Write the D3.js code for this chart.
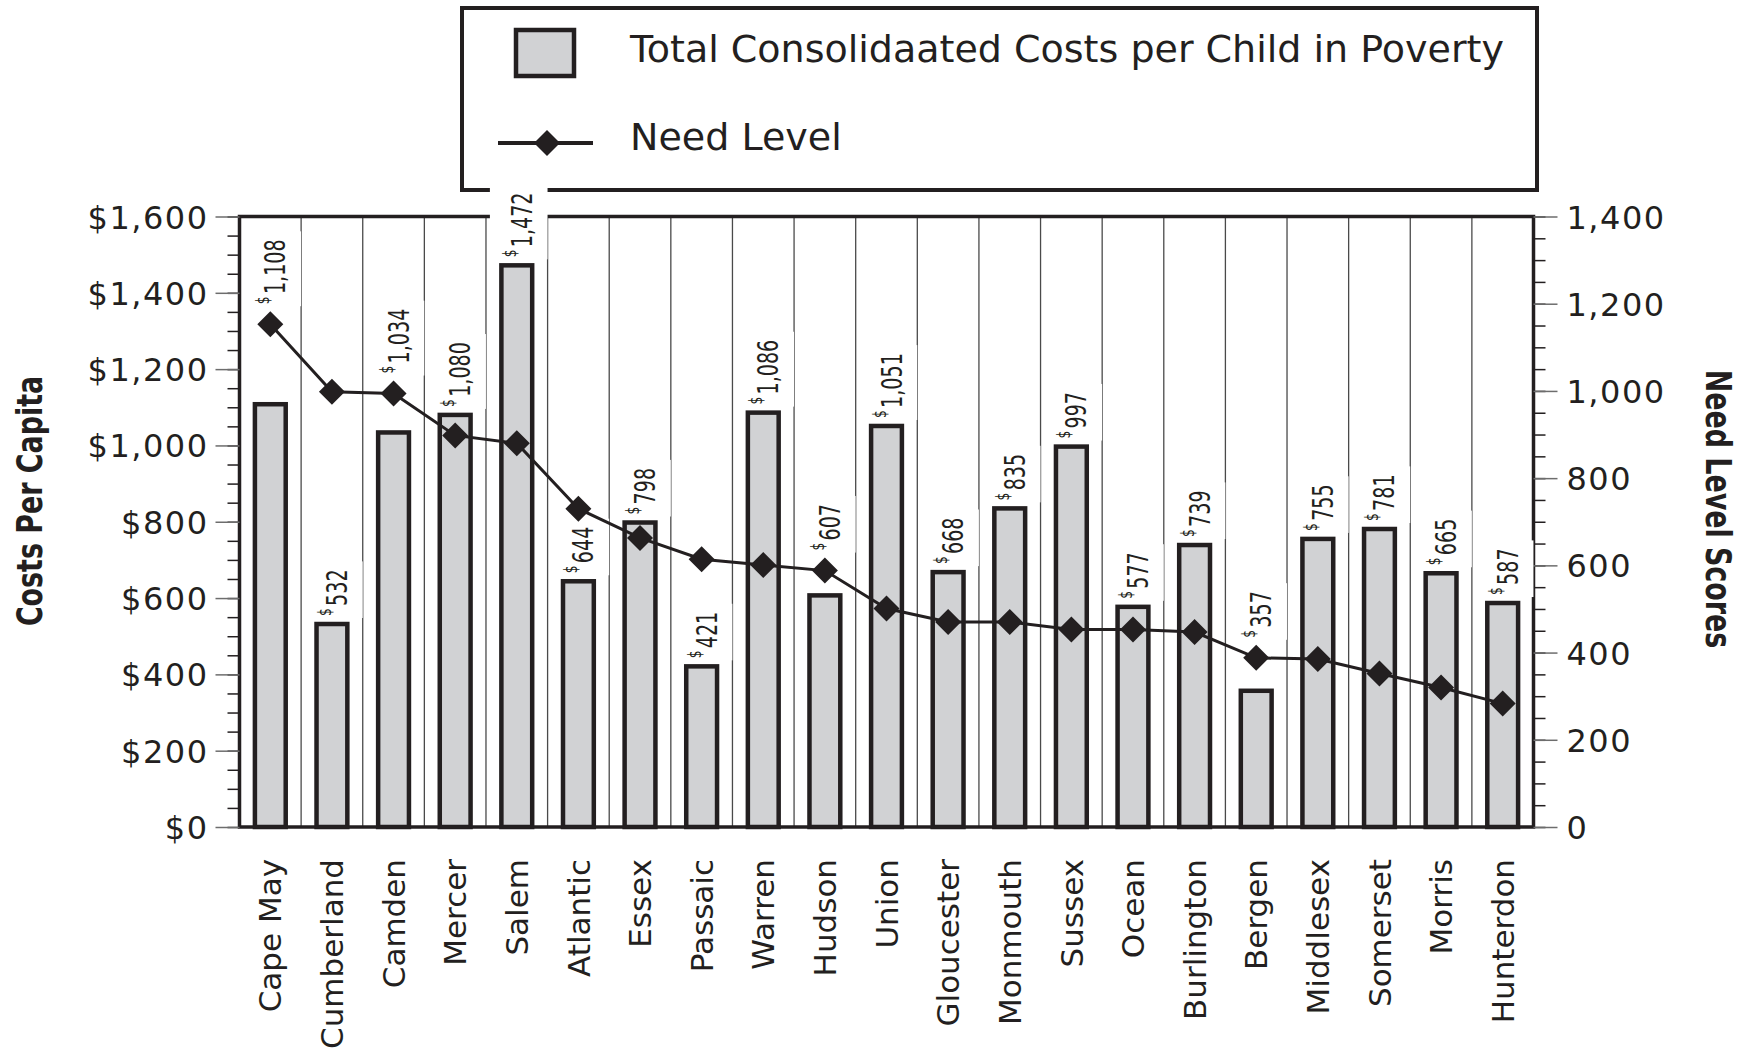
<!DOCTYPE html>
<html>
<head>
<meta charset="utf-8">
<script src="https://cdn.jsdelivr.net/npm/d3@7"></script>
<style>
  body { margin: 0; background: #fff; }
  svg { display: block; }
  .tick-label { font-family: "DejaVu Sans", sans-serif; font-size: 32px; letter-spacing: 1.5px; fill: #231f20; }
  .cat-label { font-family: "DejaVu Sans", sans-serif; font-size: 31px; fill: #231f20; }
  .legend-label { font-family: "DejaVu Sans", sans-serif; font-size: 38px; fill: #231f20; }
  .axis-title { font-family: "DejaVu Sans Condensed", "DejaVu Sans", sans-serif; font-weight: bold; font-size: 36px; fill: #231f20; }
  .value-label { font-family: "DejaVu Sans Condensed", "DejaVu Sans", sans-serif; font-size: 28px; fill: #231f20; }
</style>
</head>
<body>
<svg id="chart" width="1758" height="1050" viewBox="0 0 1758 1050"></svg>
<script>
// counties, ordered by need level
const counties = ["Cape May", "Cumberland", "Camden", "Mercer", "Salem", "Atlantic", "Essex",
  "Passaic", "Warren", "Hudson", "Union", "Gloucester", "Monmouth", "Sussex", "Ocean",
  "Burlington", "Bergen", "Middlesex", "Somerset", "Morris", "Hunterdon"]

// total consolidated costs per child in poverty ($)
const costs = [1108, 532, 1034, 1080, 1472, 644, 798, 421, 1086, 607, 1051, 668, 835, 997, 577,
  739, 357, 755, 781, 665, 587]

// need level scores
const needLevel = [1153, 998, 994, 898, 880, 730, 663, 614, 601, 588, 501, 470, 470, 453, 453,
  447, 388, 385, 352, 320, 283]

const costTicks = [0, 200, 400, 600, 800, 1000, 1200, 1400, 1600]
const needTicks = [0, 200, 400, 600, 800, 1000, 1200, 1400]

const legendLabels = ["Total Consolidaated Costs per Child in Poverty", "Need Level"]

const svg = d3.select("#chart")
const ink = "#231f20"
const squeeze = 0.83   // the original uses a condensed face, so squash along the text
const labelSqueeze = 0.76

const plotLeft = 239.5, plotRight = 1533.5, plotTop = 216.5, plotBottom = 827

let x = d3.scaleBand()
  .domain(counties)
  .range([plotLeft, plotRight])
  .paddingInner(0)

let yCost = d3.scaleLinear().domain([0, 1600]).range([plotBottom, plotTop])
let yNeed = d3.scaleLinear().domain([0, 1400]).range([plotBottom, plotTop])

// layers: the white knockouts behind labels cut frame/legend but not the need line
let gGrid = svg.append("g")
let gBars = svg.append("g")
let gFrame = svg.append("g")
let gLegend = svg.append("g")
let gKnock = svg.append("g")
let gLine = svg.append("g")
let gLabels = svg.append("g")

// thin column dividers
gGrid.selectAll("line")
  .data(counties.slice(1))
  .enter()
  .append("line")
  .attr("x1", d => x(d)).attr("x2", d => x(d))
  .attr("y1", plotTop).attr("y2", plotBottom)
  .attr("stroke", "#4a4a4a")
  .attr("stroke-width", 1.3)

// bars
const barW = x.bandwidth() * 0.5
gBars.selectAll("rect")
  .data(counties)
  .enter()
  .append("rect")
  .attr("x", d => x(d) + (x.bandwidth() - barW) / 2)
  .attr("width", barW)
  .attr("y", (d, i) => yCost(costs[i]))
  .attr("height", (d, i) => plotBottom - yCost(costs[i]))
  .attr("fill", "#d1d2d4")
  .attr("stroke", ink)
  .attr("stroke-width", 4.5)

// plot frame
gFrame.append("rect")
  .attr("x", plotLeft).attr("y", plotTop)
  .attr("width", plotRight - plotLeft).attr("height", plotBottom - plotTop)
  .attr("fill", "none")
  .attr("stroke", ink)
  .attr("stroke-width", 3.5)

// left axis: major + minor ticks
let leftMinor = d3.axisLeft(yCost).tickValues(d3.range(0, 1601, 50)).tickSize(12).tickFormat("")
let leftMajor = d3.axisLeft(yCost).tickValues(costTicks).tickSize(24).tickPadding(7)
  .tickFormat(d => "$" + d3.format(",")(d))

let gl1 = gFrame.append("g").attr("transform", `translate(${plotLeft},0)`).call(leftMinor)
let gl2 = gFrame.append("g").attr("transform", `translate(${plotLeft},0)`).call(leftMajor)

let rightMinor = d3.axisRight(yNeed).tickValues(d3.range(0, 1401, 50)).tickSize(12).tickFormat("")
let rightMajor = d3.axisRight(yNeed).tickValues(needTicks).tickSize(24).tickPadding(9)
  .tickFormat(d3.format(","))

let gr1 = gFrame.append("g").attr("transform", `translate(${plotRight},0)`).call(rightMinor)
let gr2 = gFrame.append("g").attr("transform", `translate(${plotRight},0)`).call(rightMajor)

;[gl1, gl2, gr1, gr2].forEach(g => g.select(".domain").remove())
;[gl1, gr1].forEach(g => g.selectAll("line").attr("stroke", ink).attr("stroke-width", 1.5))
;[gl2, gr2].forEach(g => {
  g.selectAll("line").attr("stroke", "#6d6d6d").attr("stroke-width", 1.5)
  g.selectAll("text").attr("class", "tick-label").attr("dy", "0.36em")
})

// category labels along the bottom
let xAxis = d3.axisBottom(x).tickSize(0).tickPadding(0)
let gx = gFrame.append("g").attr("transform", "translate(0,859)").call(xAxis)
gx.select(".domain").remove()
gx.selectAll("text")
  .attr("class", "cat-label")
  .attr("x", 0).attr("y", 0)
  .attr("dy", "0.36em")
  .attr("transform", "rotate(-90)")
  .style("text-anchor", "end")

// axis titles
gFrame.append("text")
  .attr("class", "axis-title")
  .attr("transform", `translate(29,501) rotate(-90) scale(${squeeze},1)`)
  .attr("text-anchor", "middle")
  .attr("dy", "0.35em")
  .text("Costs Per Capita")

gFrame.append("text")
  .attr("class", "axis-title")
  .attr("transform", `translate(1719,509) rotate(90) scale(${squeeze},1)`)
  .attr("text-anchor", "middle")
  .attr("dy", "0.35em")
  .text("Need Level Scores")

// legend
gLegend.append("rect")
  .attr("x", 462).attr("y", 8).attr("width", 1075).attr("height", 182)
  .attr("fill", "#fff").attr("stroke", ink).attr("stroke-width", 4)
gLegend.append("rect")
  .attr("x", 516).attr("y", 30).attr("width", 58).attr("height", 46)
  .attr("fill", "#d1d2d4").attr("stroke", ink).attr("stroke-width", 4.5)
gLegend.append("line")
  .attr("x1", 498).attr("x2", 593).attr("y1", 143).attr("y2", 143)
  .attr("stroke", ink).attr("stroke-width", 4)

const diamond = "M0,-13L13,0L0,13L-13,0Z"
gLegend.append("path")
  .attr("d", diamond)
  .attr("transform", "translate(547,143)")
  .attr("fill", ink)
gLegend.selectAll("text.legend-label")
  .data(legendLabels)
  .enter()
  .append("text")
  .attr("class", "legend-label")
  .attr("x", 630)
  .attr("y", (d, i) => i == 0 ? 62 : 150)
  .text(d => d)

// need level line with diamonds
let line = d3.line()
  .x((d, i) => x(counties[i]) + x.bandwidth() / 2)
  .y(d => yNeed(d))

gLine.append("path")
  .datum(needLevel)
  .attr("d", line)
  .attr("fill", "none")
  .attr("stroke", ink)
  .attr("stroke-width", 3)

gLine.selectAll("path.dot")
  .data(needLevel)
  .enter()
  .append("path")
  .attr("class", "dot")
  .attr("d", diamond)
  .attr("transform", (d, i) => `translate(${x(counties[i]) + x.bandwidth() / 2},${yNeed(d)})`)
  .attr("fill", ink)

// value labels, rotated, sitting on the bar (or above the diamond when they would hit it)
counties.forEach(function (c, i) {
  const cx = x(c) + x.bandwidth() / 2
  let g = gLabels.append("g")
  let t = g.append("text").attr("class", "value-label").attr("y", 15)
    .attr("transform", `scale(${labelSqueeze},1)`)
  t.append("tspan").attr("font-size", "18px").attr("dy", -16).text("$")
  t.append("tspan").attr("dy", 16).attr("dx", 3).text(d3.format(",")(costs[i]))

  const len = t.node().getComputedTextLength() * labelSqueeze + 3
  let base = yCost(costs[i]) - 8
  const dTop = yNeed(needLevel[i]) - 13, dBot = yNeed(needLevel[i]) + 13
  if (base - len < dBot && base > dTop) base = dTop - 7

  g.attr("transform", `translate(${cx},${base}) rotate(-90)`)
  const bb = t.node().getBBox()
  gKnock.append("rect")
    .attr("transform", `translate(${cx},${base}) rotate(-90)`)
    .attr("x", bb.x * labelSqueeze - 2).attr("y", bb.y - 9)
    .attr("width", bb.width * labelSqueeze + 10).attr("height", bb.height + 18)
    .attr("fill", "#fff")
})
</script>
</body>
</html>
